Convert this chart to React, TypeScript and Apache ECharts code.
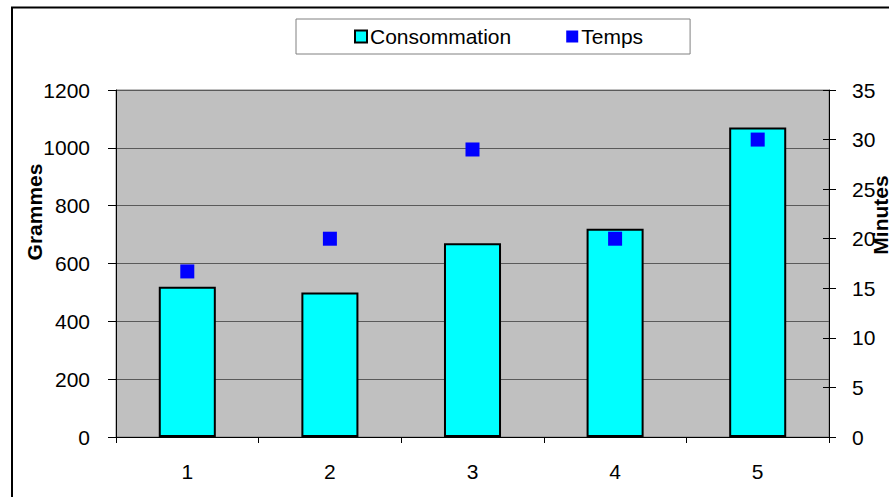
import React, { useEffect, useRef } from "react";
import * as echarts from "echarts";

const categories = ["1", "2", "3", "4", "5"];
const consommation = [520, 500, 670, 720, 1070];
const temps = [16.7, 20, 29, 20, 30];
const leftTicks = { min: 0, max: 1200, interval: 200 };
const rightTicks = { min: 0, max: 35, interval: 5 };

const FONT = "Liberation Sans, Arial, sans-serif";
const FS = 21;

export default function App() {
  const ref = useRef<HTMLDivElement>(null);
  useEffect(() => {
    const chart = echarts.init(ref.current!, null, { renderer: "svg" });
    chart.setOption({
      animation: false,
      backgroundColor: "#ffffff",
      textStyle: { fontFamily: FONT, color: "#000" },
      legend: {
        left: 296,
        top: 19,
        padding: [7, 47, 7, 58],
        itemGap: 55,
        itemWidth: 12,
        itemHeight: 12,
        borderColor: "#808080",
        borderWidth: 1,
        backgroundColor: "#fff",
        textStyle: { fontFamily: FONT, fontSize: FS, color: "#000", padding: [0, 0, 0, -2] },
        data: [
          { name: "Consommation", icon: "rect" },
          { name: "Temps", icon: "rect" },
        ],
      },
      grid: {
        left: 116,
        right: 60,
        top: 90,
        bottom: 60,
        show: true,
        backgroundColor: "#c0c0c0",
        borderColor: "#808080",
        borderWidth: 1,
      },
      xAxis: {
        type: "category",
        data: categories,
        boundaryGap: true,
        axisLine: { lineStyle: { color: "#000", width: 1 } },
        axisTick: { show: true, length: 6, lineStyle: { color: "#000" } },
        axisLabel: { fontSize: FS, color: "#000", margin: 24, fontFamily: FONT },
      },
      yAxis: [
        {
          type: "value",
          position: "left",
          ...leftTicks,
          axisLine: { show: true, lineStyle: { color: "#000", width: 1 } },
          axisTick: { show: true, length: 8, lineStyle: { color: "#000" } },
          axisLabel: {
            fontSize: FS,
            color: "#000",
            margin: 26,
            fontFamily: FONT,
            formatter: (v: number) => String(v),
          },
          splitLine: { show: true, lineStyle: { color: "#5a5a5a", width: 1 } },
        },
        {
          type: "value",
          position: "right",
          ...rightTicks,
          axisLine: { show: true, lineStyle: { color: "#000", width: 1 } },
          axisTick: { show: true, length: 7, lineStyle: { color: "#000" } },
          axisLabel: {
            fontSize: FS,
            color: "#000",
            margin: 23,
            fontFamily: FONT,
            formatter: (v: number) => String(v),
          },
          splitLine: { show: false },
        },
        {
          type: "value",
          position: "right",
          ...rightTicks,
          axisLine: { show: false },
          axisTick: { show: true, inside: true, length: 6, lineStyle: { color: "#000" } },
          axisLabel: { show: false },
          splitLine: { show: false },
        },
      ],
      series: [
        {
          name: "Consommation",
          type: "bar",
          data: consommation,
          yAxisIndex: 0,
          barWidth: "40%",
          itemStyle: { color: "#00ffff", borderColor: "#000", borderWidth: 2 },
        },
        {
          name: "Temps",
          type: "scatter",
          data: temps,
          yAxisIndex: 1,
          symbol: "rect",
          symbolSize: 14,
          itemStyle: { color: "#0000ff", opacity: 1 },
          z: 5,
        },
      ],
      graphic: [
        {
          type: "rect",
          shape: { x: 12, y: 7.5, width: 1000, height: 1000 },
          style: { fill: "none", stroke: "#000", lineWidth: 2 },
          silent: true,
        },
        {
          type: "text",
          x: 34,
          y: 212,
          rotation: Math.PI / 2,
          style: {
            text: "Grammes",
            fontFamily: FONT,
            fontSize: FS,
            fontWeight: "bold",
            fill: "#000",
            align: "center",
            verticalAlign: "middle",
          },
        },
        {
          type: "text",
          x: 880,
          y: 215,
          rotation: Math.PI / 2,
          style: {
            text: "Minutes",
            fontFamily: FONT,
            fontSize: FS,
            fontWeight: "bold",
            fill: "#000",
            align: "center",
            verticalAlign: "middle",
          },
        },
      ],
    });
    return () => chart.dispose();
  }, []);
  return (
    <div
      ref={ref}
      style={{ position: "fixed", left: 0, top: 0, width: 889, height: 497 }}
    />
  );
}
